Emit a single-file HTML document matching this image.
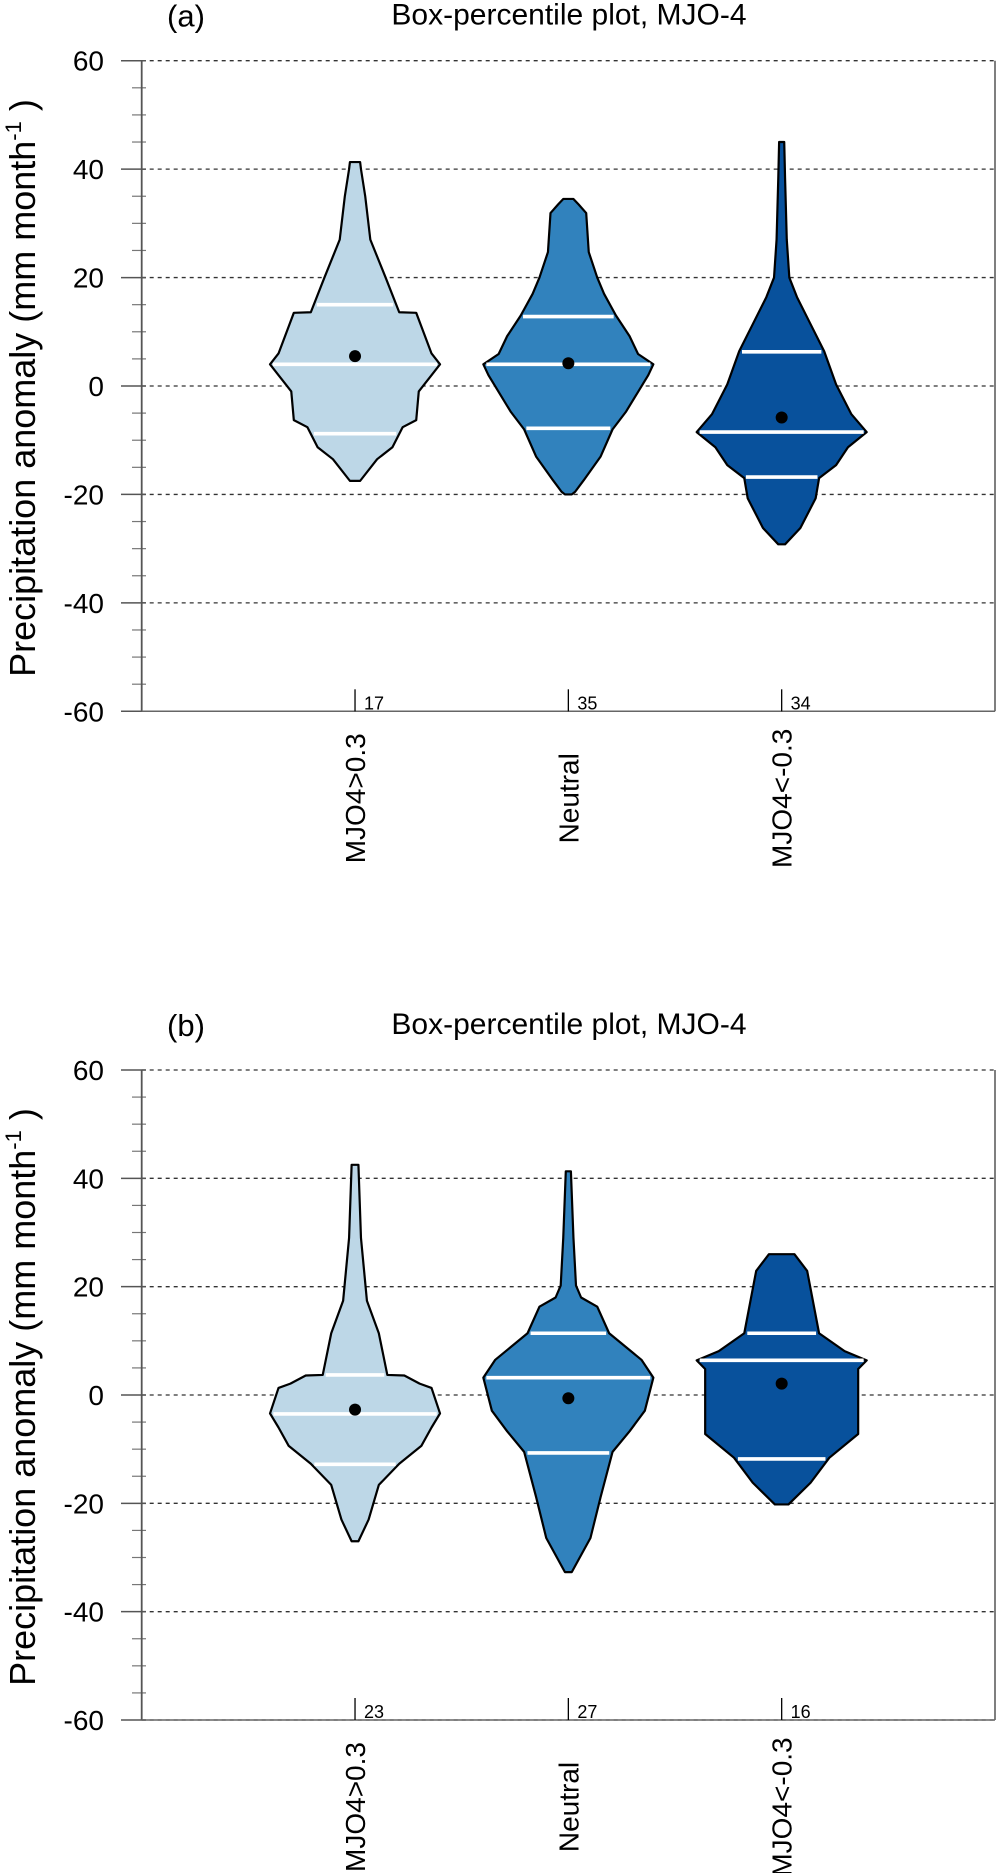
<!DOCTYPE html>
<html><head><meta charset="utf-8"><style>
html,body{margin:0;padding:0;background:#fff;}
svg{display:block;font-family:"Liberation Sans",sans-serif;}
</style></head><body>
<svg id="fig" width="996" height="1873" viewBox="0 0 996 1873" xmlns="http://www.w3.org/2000/svg"></svg>
<script>
const categories = ["MJO4>0.3","Neutral","MJO4<-0.3"];
const countsA = [17,35,34];
const countsB = [23,27,16];
const yTicks = [60,40,20,0,-20,-40,-60];
// profiles: value levels and percentile-widths
const a1Vals=[41.3,40,35,27,20,13.6,13.5,11,6,4,2,-1,-6.3,-7.6,-11.3,-13.5,-17.5];
const a1Pct=[0.03,0.035,0.06,0.09,0.18,0.26,0.36,0.39,0.45,0.5,0.45,0.375,0.36,0.28,0.22,0.13,0.03];
const a2Vals=[34.5,33.5,31.9,24.7,20,17,13,9.2,5.9,4,2,-4.7,-8,-13,-17.4,-19.5,-20];
const a2Pct=[0.03,0.06,0.105,0.12,0.17,0.21,0.28,0.36,0.41,0.5,0.47,0.34,0.26,0.19,0.09,0.04,0.02];
const a3Vals=[45,38.3,27,20,16.4,11.4,6.4,0.3,-5.2,-8.5,-11.3,-14.6,-17,-20.7,-26.2,-29.2];
const a3Pct=[0.015,0.02,0.03,0.045,0.09,0.17,0.25,0.32,0.41,0.5,0.39,0.32,0.22,0.2,0.11,0.02];
const b1Vals=[42.5,29,17.4,11.4,3.7,3.6,2.1,1.3,-3.4,-6,-9.4,-12.7,-16.6,-23,-27];
const b1Pct=[0.02,0.035,0.07,0.14,0.19,0.29,0.38,0.45,0.5,0.45,0.39,0.26,0.14,0.08,0.02];
const b2Vals=[41.3,29,20.2,18,16.3,11.4,6.5,3.2,-2.9,-6.7,-10.5,-18.8,-26.4,-32.7];
const b2Pct=[0.015,0.03,0.045,0.075,0.17,0.24,0.43,0.5,0.45,0.36,0.26,0.19,0.13,0.02];
const b3Vals=[26,22.9,11.4,8.1,6.4,4.8,-7.2,-11.6,-16.2,-20.2];
const b3Pct=[0.075,0.15,0.22,0.37,0.5,0.45,0.45,0.28,0.17,0.04];
const linesA=[[15,4,-8.8],[12.8,4,-7.8],[6.3,-8.5,-16.8]];
const linesB=[[3.7,-3.5,-12.8],[11.4,3.2,-10.7],[11.4,6.4,-11.8]];
const meansA=[5.5,4.2,-5.8];
const meansB=[-2.7,-0.6,2.1];
const colors=["#bdd7e7","#3182bd","#08519c"];

const NS="http://www.w3.org/2000/svg";
const svg=document.getElementById('fig');
function mk(tag,attrs,parent){const e=document.createElementNS(NS,tag);for(const k in attrs)e.setAttribute(k,attrs[k]);(parent||svg).appendChild(e);return e;}

function panel(tag,top,bot,vals,pcts,lines,means,counts){
  const L=141.7,R=995;
  const g=mk('g',{});
  
  
  const y=v=>top+(60-v)/120*(bot-top);
  const x=c=>L+c*(R-L)/4;
  const t1=mk('text',{x:167,y:top-34,'font-size':31},g);t1.textContent='('+tag+')';
  
  
  const t2=mk('text',{x:569,y:top-36,'font-size':30,'text-anchor':'middle'},g);t2.textContent='Box-percentile plot, MJO-4';
  
  
  // grid
  yTicks.forEach(v=>{
    const l=mk('line',{x1:L,x2:R,y1:y(v),y2:y(v),stroke:'#333','stroke-width':1.3,'stroke-dasharray':'4 4'},g);
    
    
    const tk=mk('line',{x1:121,x2:146,y1:y(v),y2:y(v),stroke:'#555','stroke-width':1.5},g);
    
    
    const tl=mk('text',{x:104,y:y(v)+10,'font-size':28,'text-anchor':'end'},g);tl.textContent=v;
    
    
  });
  for(let v=-55;v<60;v+=5){ if(v%20===0) continue;
    const tk=mk('line',{x1:132,x2:146,y1:y(v),y2:y(v),stroke:'#777','stroke-width':1.2},g);
    
    
  }
  const ax=mk('line',{x1:L,x2:L,y1:top,y2:bot,stroke:'#555','stroke-width':1.8},g);
  
  
  const rx=mk('line',{x1:R,x2:R,y1:top,y2:bot,stroke:'#555','stroke-width':1.5},g);
  
  
  const bx=mk('line',{x1:L,x2:R,y1:bot,y2:bot,stroke:'#666','stroke-width':1.5},g);
  
  
  const yl=mk('text',{transform:`translate(35,${(top+bot)/2+2}) rotate(-90)`,'font-size':36,'text-anchor':'middle'},g);
  yl.innerHTML='Precipitation anomaly (mm month<tspan font-size="22" dy="-14">-1</tspan><tspan dy="14"> )</tspan>';
  
  
  for(let c=0;c<3;c++){
    const cx=x(c+1);
    const V=vals[c],P=pcts[c];
    const hw=p=>p*170;
    let d='M'+(cx-hw(P[0]))+','+y(V[0]);
    for(let i=1;i<V.length;i++) d+=' L'+(cx-hw(P[i]))+','+y(V[i]);
    for(let i=V.length-1;i>=0;i--) d+=' L'+(cx+hw(P[i]))+','+y(V[i]);
    d+='Z';
    const vp=mk('path',{d:d,fill:colors[c],stroke:'#000','stroke-width':2.2,'stroke-linejoin':'round'},g);
    
    
    const interp=v=>{for(let i=0;i<V.length-1;i++){if(v<=V[i]&&v>=V[i+1]){const f=(V[i]-v)/(V[i]-V[i+1]||1);return P[i]+(P[i+1]-P[i])*f;}}return 0;};
    lines[c].forEach(v=>{
      const w=hw(interp(v))-3;
      const ln=mk('line',{x1:cx-w,x2:cx+w,y1:y(v),y2:y(v),stroke:'#fff','stroke-width':3.6},g);
      
      
    });
    const dot=mk('circle',{cx:cx,cy:y(means[c]),r:6,fill:'#000'},g);
    
    
    const xt=mk('line',{x1:cx,x2:cx,y1:bot-22,y2:bot,stroke:'#000','stroke-width':1.3},g);
    
    
    const ct=mk('text',{x:cx+9,y:bot-2,'font-size':18},g);ct.textContent=counts[c];
    
    
    const xl=mk('text',{transform:`translate(${cx+10},${bot+87}) rotate(-90)`,'font-size':28,'text-anchor':'middle'},g);xl.textContent=categories[c];
    
    
  }
}
panel('a',60.7,711.3,[a1Vals,a2Vals,a3Vals],[a1Pct,a2Pct,a3Pct],linesA,meansA,countsA);
panel('b',1070,1720,[b1Vals,b2Vals,b3Vals],[b1Pct,b2Pct,b3Pct],linesB,meansB,countsB);
</script>
</body></html>
